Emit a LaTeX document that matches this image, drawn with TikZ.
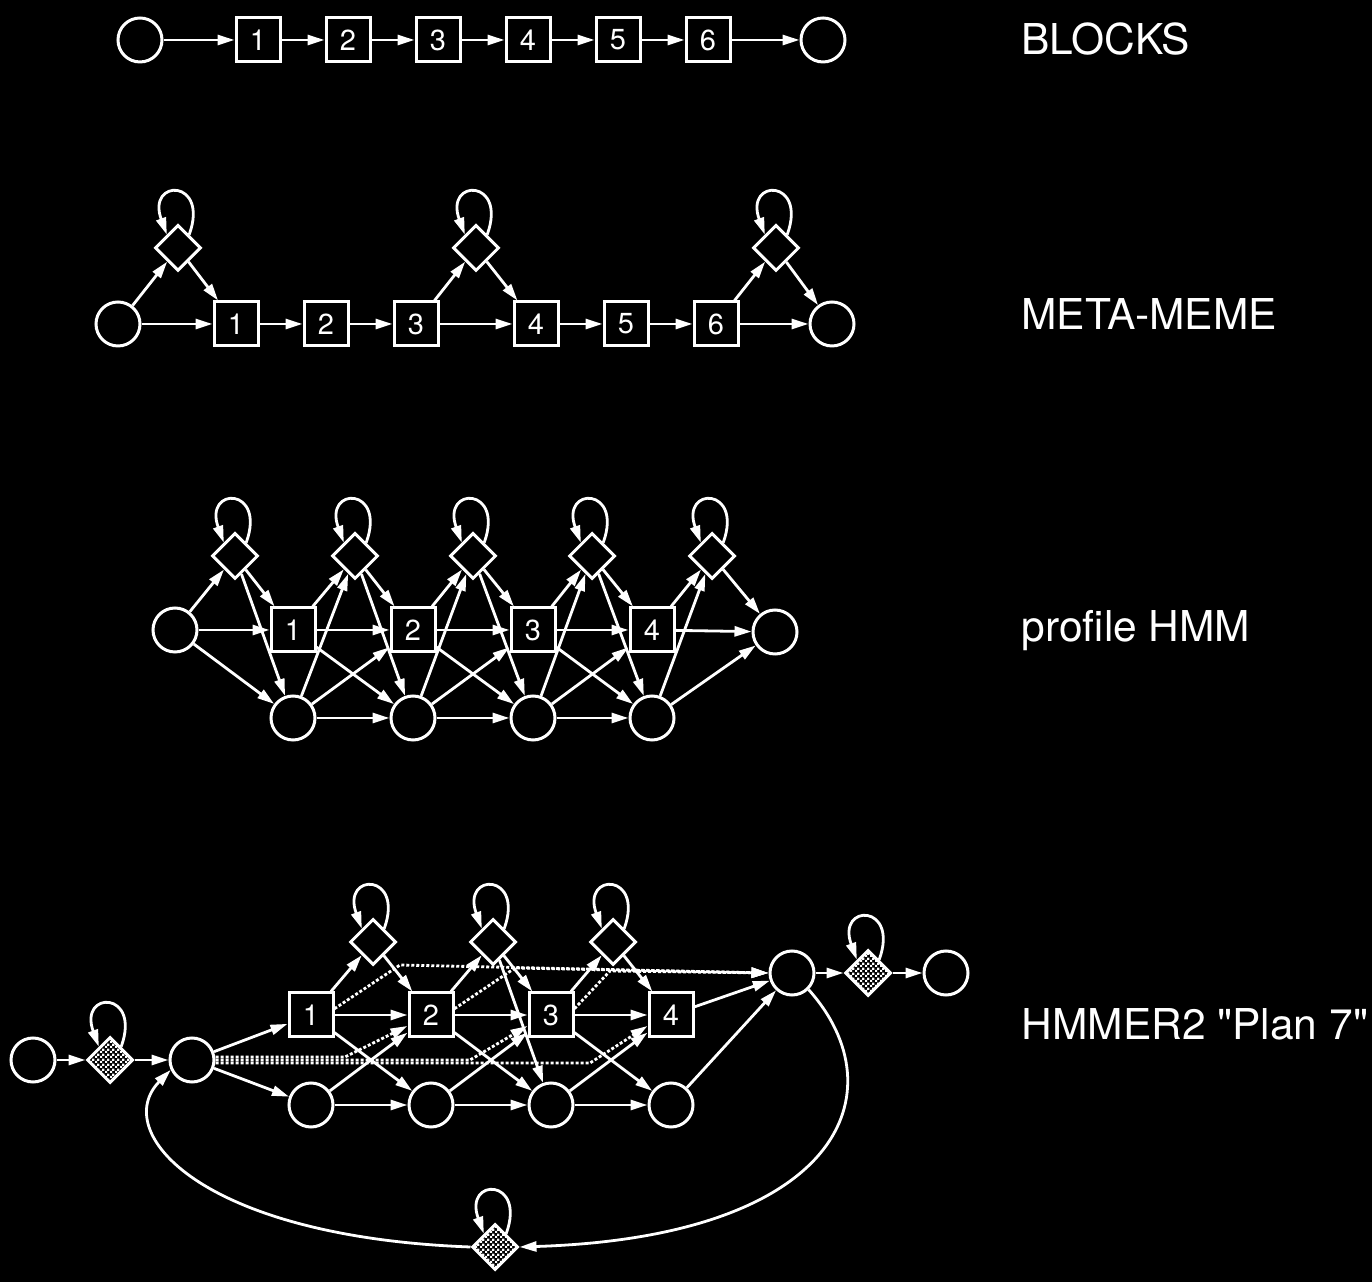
\documentclass[tikz,border=0pt]{standalone}
\usepackage{fontspec}
\setmainfont{TeX Gyre Heros}[Ligatures=TeXOff]
\usetikzlibrary{shapes.geometric,arrows.meta,patterns}

\pgfdeclarepatternformonly{checks}{\pgfpointorigin}{\pgfqpoint{5pt}{5pt}}{\pgfqpoint{5pt}{5pt}}{%
  \pgfpathrectangle{\pgfpointorigin}{\pgfqpoint{2.6pt}{2.6pt}}%
  \pgfpathrectangle{\pgfqpoint{2.5pt}{2.5pt}}{\pgfqpoint{2.6pt}{2.6pt}}%
  \pgfusepath{fill}}

\begin{document}
\begin{tikzpicture}[x=1pt, y=1pt,
    >={Triangle[length=17pt,width=10pt]},
    every node/.style={draw=white, line width=3pt, fill=black, text=white,
        inner sep=0pt, font=\fontsize{29}{29}\selectfont},
    mstate/.style={rectangle, minimum size=44pt},
    dstate/.style={circle, minimum size=44pt},
    istate/.style={diamond, minimum size=46pt},
    xstate/.style={diamond, minimum size=46pt, fill=none, pattern=checks, pattern color=white},
    lbl/.style={draw=none, fill=none, anchor=base west, font=\fontsize{42.5}{42.5}\selectfont},
    trans/.style={->, draw=white, line width=2.8pt},
    entry/.style={trans, dash pattern=on 3pt off 2pt}
]
\fill[black] (0,0) rectangle (1372,1282);
\useasboundingbox (0,0) rectangle (1372,1282);

% BLOCKS
\node[dstate] (bs) at (140,1242) {};
\foreach \k/\x in {1/258,2/348,3/438,4/528,5/618,6/708}
    \node[mstate] (b\k) at (\x,1242) {\k};
\node[dstate] (be) at (823,1242) {};
\draw[trans] (bs) -- (b1);
\foreach \k [count=\j from 2] in {1,...,5}
    \draw[trans] (b\k) -- (b\j);
\draw[trans] (b6) -- (be);
\node[lbl] (lblocks) at (1020,1227) {BLOCKS};

% META-MEME
\node[dstate] (ms) at (118,958) {};
\foreach \k/\x in {1/236,2/326,3/416,4/536,5/626,6/716}
    \node[mstate] (m\k) at (\x,958) {\k};
\node[dstate] (me) at (832,958) {};
\foreach \k/\x in {0/178,3/476,6/776}
    \node[istate] (mi\k) at (\x,1034) {};
\foreach \a/\b in {ms/mi0, ms/m1, mi0/m1, m1/m2, m2/m3, m3/mi3, m3/m4, mi3/m4,
        m4/m5, m5/m6, m6/mi6, m6/me, mi6/me}
    \draw[trans] (\a) -- (\b);
\node[lbl] (lmeme) at (1020,952) {META-MEME};

% profile HMM
\node[dstate] (ps) at (175,652) {};
\foreach \k/\x in {1/293,2/413,3/533,4/652} {
    \node[mstate] (p\k) at (\x,652) {\k};
    \node[dstate] (pd\k) at (\x,564) {};
}
\foreach \k/\x in {0/235,1/355,2/473,3/592,4/712}
    \node[istate] (pi\k) at (\x,726) {};
\node[dstate] (pe) at (775,650) {};
\foreach \a/\b in {ps/pi0, ps/p1, ps/pd1, pi0/p1, pi0/pd1,
        p4/pi4, p4/pe, pi4/pe, pd4/pi4, pd4/pe}
    \draw[trans] (\a) -- (\b);
\foreach \k [count=\j from 2] in {1,2,3} {
    \draw[trans] (p\k) -- (pi\k);
    \draw[trans] (p\k) -- (p\j);
    \draw[trans] (p\k) -- (pd\j);
    \draw[trans] (pi\k) -- (p\j);
    \draw[trans] (pi\k) -- (pd\j);
    \draw[trans] (pd\k) -- (pi\k);
    \draw[trans] (pd\k) -- (p\j);
    \draw[trans] (pd\k) -- (pd\j);
}
\node[lbl] (lprofile) at (1020,640) {profile HMM};

% HMMER2 Plan 7
\node[dstate] (hs) at (33,222) {};
\node[xstate] (hn) at (110,222) {};
\node[dstate] (hb) at (192,222) {};
\foreach \k/\x in {1/311,2/431,3/551,4/671} {
    \node[mstate] (hm\k) at (\x,267) {\k};
    \node[dstate] (hd\k) at (\x,177) {};
}
\foreach \k/\x in {1/373,2/493,3/613}
    \node[istate] (hi\k) at (\x,340) {};
\node[dstate] (he) at (792,309) {};
\node[xstate] (hc) at (868,309) {};
\node[dstate] (ht) at (946,309) {};
\node[xstate] (hj) at (495,35) {};
\foreach \a/\b in {hs/hn, hn/hb, hb/hm1, hb/hd1, hi2/hd3,
        hm4/he, hd4/he, he/hc, hc/ht}
    \draw[trans] (\a) -- (\b);
\foreach \k [count=\j from 2] in {1,2,3} {
    \draw[trans] (hm\k) -- (hi\k);
    \draw[trans] (hm\k) -- (hm\j);
    \draw[trans] (hm\k) -- (hd\j);
    \draw[trans] (hi\k) -- (hm\j);
    \draw[trans] (hd\k) -- (hm\j);
    \draw[trans] (hd\k) -- (hd\j);
}
% entries and exits
\foreach \k/\xb/\dy in {2/345/3, 3/470/0, 4/590/-3}
    \draw[entry] (hb.east) ++(0,\dy) -- (\xb,222+\dy) -- (hm\k.205);
\foreach \k/\xb/\dy in {1/400/8, 2/515/5, 3/610/2}
    \draw[entry] (hm\k.15) -- (\xb,309+\dy) -- (he.west);
% back loop
\draw[trans] (he.315) .. controls (900,190) and (840,45) .. (hj.east);
\draw[trans] (hj.west) .. controls (200,45) and (110,150) .. (hb.205);
\node[lbl] (lplan) at (1020,242) {HMMER2 "Plan 7"};

% self loops
\foreach \n in {mi0,mi3,mi6,pi0,pi1,pi2,pi3,pi4,hi1,hi2,hi3,hn,hc,hj}
    \draw[trans] (\n.50) .. controls +(70:60) and +(110:60) .. (\n.130);

\end{tikzpicture}
\end{document}
